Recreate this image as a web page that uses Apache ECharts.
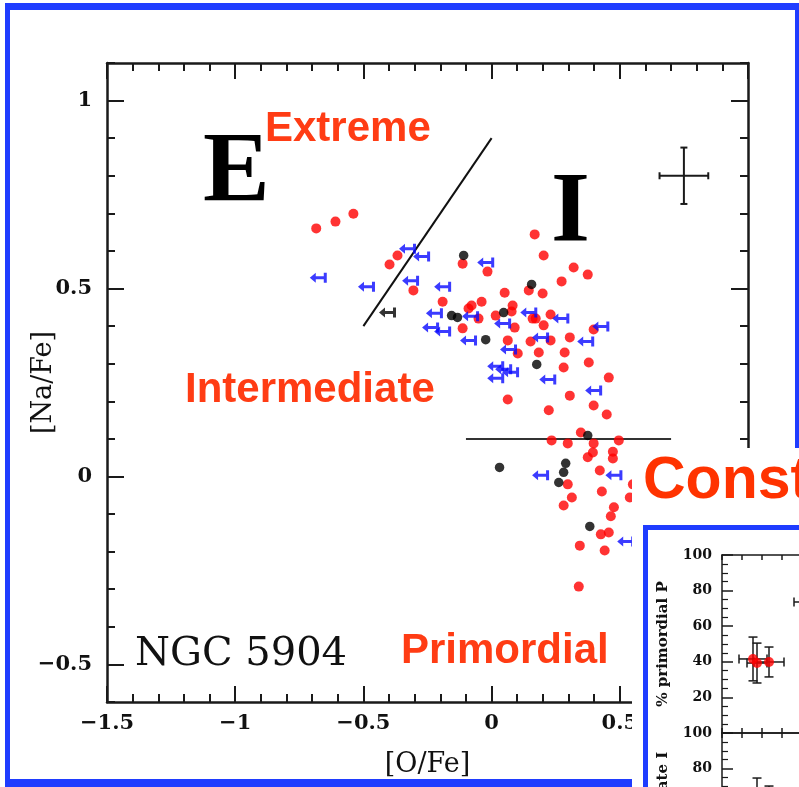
<!DOCTYPE html>
<html>
<head>
<meta charset="utf-8">
<script src="https://cdn.jsdelivr.net/npm/echarts@6/dist/echarts.min.js"></script>
<style>
  html, body { margin: 0; padding: 0; background: #fff; }
  #chart { width: 799px; height: 787px; }
</style>
</head>
<body>
<div id="chart"></div>
<script>
// NGC 5904: [Na/Fe] against [O/Fe], with the P / I / E component boundaries.

// Stars with both O and Na measured (red) - [O/Fe], [Na/Fe]
const redStars = [
  [-0.684, 0.660], [-0.609, 0.678], [-0.539, 0.699], [-0.398, 0.564], [-0.367, 0.588],
  [0.168, 0.644], [0.203, 0.588], [0.320, 0.556], [0.375, 0.537], [0.273, 0.519],
  [-0.113, 0.566], [-0.016, 0.545], [-0.305, 0.495], [0.145, 0.495], [0.199, 0.487],
  [0.051, 0.489], [-0.191, 0.465], [-0.039, 0.465], [-0.078, 0.455], [-0.090, 0.447],
  [0.082, 0.455], [0.078, 0.439], [-0.051, 0.420], [0.016, 0.428], [0.160, 0.420],
  [0.172, 0.420], [0.230, 0.431], [0.090, 0.396], [0.203, 0.402], [-0.113, 0.394],
  [0.398, 0.391], [0.305, 0.370], [0.230, 0.362], [0.152, 0.359], [0.063, 0.362],
  [0.102, 0.327], [0.184, 0.330], [0.285, 0.330], [0.379, 0.303], [0.281, 0.290],
  [0.457, 0.263], [0.305, 0.215], [0.063, 0.205], [0.223, 0.176], [0.398, 0.189],
  [0.449, 0.165], [0.348, 0.117], [0.234, 0.096], [0.297, 0.088], [0.398, 0.088],
  [0.496, 0.096], [0.395, 0.064], [0.473, 0.066], [0.473, 0.048], [0.375, 0.051],
  [0.297, -0.021], [0.422, 0.016], [0.551, -0.021], [0.430, -0.040], [0.313, -0.056],
  [0.281, -0.077], [0.539, -0.056], [0.477, -0.082], [0.465, -0.106], [0.426, -0.154],
  [0.457, -0.149], [0.344, -0.184], [0.441, -0.197], [0.340, -0.293]
];

// Second sample (black)
const blackStars = [
  [-0.109, 0.588], [0.156, 0.511], [-0.156, 0.428], [-0.133, 0.423], [0.047, 0.436],
  [-0.023, 0.364], [0.176, 0.298], [0.375, 0.109], [0.031, 0.024], [0.289, 0.035],
  [0.281, 0.011], [0.262, -0.016], [0.383, -0.133]
];

// Upper limits on [O/Fe] (blue arrows)
const blueLimits = [
  [-0.676, 0.529], [-0.488, 0.505], [-0.328, 0.606], [-0.273, 0.585], [-0.023, 0.569],
  [-0.316, 0.521], [-0.191, 0.505], [-0.223, 0.434], [-0.082, 0.426], [-0.238, 0.396],
  [-0.191, 0.386], [0.043, 0.407], [0.145, 0.436], [0.270, 0.420], [-0.090, 0.362],
  [0.191, 0.370], [0.367, 0.359], [0.426, 0.399], [0.066, 0.338], [0.016, 0.293],
  [0.074, 0.277], [0.016, 0.261], [0.047, 0.285], [0.219, 0.258], [0.398, 0.229],
  [0.191, 0.003], [0.477, 0.003], [0.523, -0.173]
];

// Upper limit on [O/Fe], second sample (black arrow)
const blackLimits = [[-0.406, 0.436]];

// Component boundaries
const extremeBoundary = [[-0.5, 0.4], [0.0, 0.9]];
const primordialBoundary = [[-0.1, 0.1], [0.7, 0.1]];

// Typical error: [O/Fe], [Na/Fe], err[O/Fe], err[Na/Fe]
const typicalError = [[0.75, 0.80, 0.095, 0.075]];

// Axis tick labels
const oFeTicks = [-1.5, -1, -0.5, 0, 0.5, 1];
const naFeTicks = [-0.5, 0, 0.5, 1];

// Small panels: fraction of P and I components
const panelX = [1.55, 1.75, 2.35, 4.4];
const panelXErr = [0.7, 0.5, 0.75, 0.8];
const primordialP = [41.6, 39.3, 39.9, 73.6];
const primordialErr = [12.3, 11.2, 8.4, 10.0];
const intermediateI = [54.0, 61.0, 58.0, 20.0];
const intermediateErr = [12.0, 13.7, 12.2, 8.0];
const percentTicks = [20, 40, 60, 80, 100];

const ORANGE = '#ff3c14';
const BLUE = '#1f3cff';
const INK = '#1a1a1a';

const fmtSigned = v => (v < 0 ? '\u2212' + Math.abs(v) : String(v));

function errorBars(capHalf, width) {
  return function (params, api) {
    const x = api.value(0), y = api.value(1), ex = api.value(2), ey = api.value(3);
    const l = api.coord([x - ex, y]), r = api.coord([x + ex, y]);
    const t = api.coord([x, y + ey]), b = api.coord([x, y - ey]);
    const style = { stroke: INK, lineWidth: width };
    const seg = (x1, y1, x2, y2) => ({ type: 'line', shape: { x1, y1, x2, y2 }, style });
    return {
      type: 'group',
      children: [
        seg(l[0], l[1], r[0], r[1]),
        seg(t[0], t[1], b[0], b[1]),
        seg(l[0], l[1] - capHalf, l[0], l[1] + capHalf),
        seg(r[0], r[1] - capHalf, r[0], r[1] + capHalf),
        seg(t[0] - capHalf, t[1], t[0] + capHalf, t[1]),
        seg(b[0] - capHalf, b[1], b[0] + capHalf, b[1])
      ]
    };
  };
}

const arrowPath = 'path://M0,5L6,0L6,3.5L14,3.5L14,0L17,0L17,10L14,10L14,6.5L6,6.5L6,10Z';

const frameLine = { show: true, onZero: false, lineStyle: { color: INK, width: 2.5 } };
const hiddenLine = { show: false, onZero: false };
const tickFont = { fontFamily: 'DejaVu Serif', fontWeight: 'bold', fontSize: 21, color: '#111' };
const nameFont = { fontFamily: 'DejaVu Serif', fontSize: 27, color: '#111' };
const smallFont = { fontFamily: 'DejaVu Serif', fontWeight: 'bold', fontSize: 14, color: '#111' };
const smallLine = { show: true, onZero: false, lineStyle: { color: INK, width: 1.5 } };

function mainX(position, withLabels) {
  return {
    gridIndex: 0, type: 'value', position, min: -1.5, max: 1.0, interval: 0.5,
    axisLine: frameLine,
    axisTick: { show: true, inside: true, length: 16, lineStyle: { color: INK, width: 2 } },
    minorTick: { show: true, splitNumber: 5, length: 8, lineStyle: { color: INK, width: 2 } },
    splitLine: { show: false }, minorSplitLine: { show: false },
    axisLabel: withLabels ? Object.assign({ show: true, margin: 11, formatter: fmtSigned, customValues: oFeTicks }, tickFont) : { show: false },
    name: withLabels ? '[O/Fe]' : '', nameLocation: 'middle', nameGap: 49, nameMoveOverlap: false,
    nameTextStyle: nameFont
  };
}

function mainY(position, major, withLabels) {
  const ax = {
    gridIndex: 0, type: 'value', position, min: -0.6, max: 1.1, interval: 0.1,
    axisLine: major ? hiddenLine : frameLine,
    axisTick: major
      ? { show: true, inside: true, length: 17, customValues: naFeTicks, lineStyle: { color: INK, width: 2 } }
      : { show: true, inside: true, length: 8, lineStyle: { color: INK, width: 2 } },
    splitLine: { show: false },
    axisLabel: withLabels ? Object.assign({ show: true, margin: 15, formatter: fmtSigned, customValues: naFeTicks }, tickFont) : { show: false }
  };
  if (withLabels) {
    ax.name = '[Na/Fe]';
    ax.nameLocation = 'middle';
    ax.nameGap = 50;
    ax.nameRotate = 90;
    ax.nameMoveOverlap = false;
    ax.nameTextStyle = nameFont;
  }
  return ax;
}

function panelXAxis(gridIndex, position) {
  return {
    gridIndex, type: 'value', position, min: 0, max: 10, interval: 1, z: 20,
    axisLine: smallLine,
    axisTick: { show: true, inside: true, length: 5, lineStyle: { color: INK, width: 1.5 } },
    splitLine: { show: false }, axisLabel: { show: false }
  };
}

function panelYAxis(gridIndex, name) {
  return {
    gridIndex, type: 'value', position: 'left', min: 0, max: 100, interval: 20, z: 20,
    axisLine: smallLine,
    axisTick: { show: true, inside: true, length: 11, lineStyle: { color: INK, width: 1.5 } },
    minorTick: { show: true, splitNumber: 4, length: 6, lineStyle: { color: INK, width: 1.2 } },
    splitLine: { show: false }, minorSplitLine: { show: false },
    axisLabel: Object.assign({ show: true, margin: 10, customValues: percentTicks }, smallFont),
    name, nameLocation: 'middle', nameGap: 51, nameRotate: 90, nameMoveOverlap: false,
    nameTextStyle: { fontFamily: 'DejaVu Serif', fontWeight: 'bold', fontSize: 15, color: '#111' }
  };
}

const pRows = panelX.map((x, i) => [x, primordialP[i], panelXErr[i], primordialErr[i]]);
const iRows = panelX.map((x, i) => [x, intermediateI[i], panelXErr[i], intermediateErr[i]]);
const pPoints = panelX.map((x, i) => [x, primordialP[i]]);
const iPoints = panelX.map((x, i) => [x, intermediateI[i]]);

const label = (text, x, y, font, fill, z) => ({
  type: 'text', x, y, z: z || 5,
  style: { text, font, fill, textAlign: 'left', textVerticalAlign: 'middle' }
});

const option = {
  animation: false,
  backgroundColor: '#fff',
  grid: [
    { left: 107, top: 63, width: 641, height: 639, outerBoundsMode: 'none', containLabel: false },
    { left: 722, top: 555, width: 200, height: 178, z: 20, outerBoundsMode: 'none', containLabel: false },
    { left: 722, top: 733, width: 200, height: 178, z: 20, outerBoundsMode: 'none', containLabel: false }
  ],
  xAxis: [
    mainX('bottom', true),
    mainX('top', false),
    panelXAxis(1, 'top'),
    panelXAxis(1, 'bottom'),
    panelXAxis(2, 'top')
  ],
  yAxis: [
    mainY('left', false, true),
    mainY('left', true, false),
    mainY('right', false, false),
    mainY('right', true, false),
    panelYAxis(1, '% primordial P'),
    panelYAxis(2, '% intermediate I')
  ],
  series: [
    { type: 'line', xAxisIndex: 0, yAxisIndex: 0, data: extremeBoundary, symbol: 'none',
      lineStyle: { color: '#111', width: 2 }, z: 3 },
    { type: 'line', xAxisIndex: 0, yAxisIndex: 0, data: primordialBoundary, symbol: 'none',
      lineStyle: { color: '#333', width: 2 }, z: 3 },
    { type: 'scatter', xAxisIndex: 0, yAxisIndex: 0, data: redStars, symbol: 'circle', symbolSize: 10,
      itemStyle: { color: '#ff0000' }, z: 4 },
    { type: 'scatter', xAxisIndex: 0, yAxisIndex: 0, data: blackStars, symbol: 'circle', symbolSize: 9.5,
      itemStyle: { color: '#000' }, z: 4 },
    { type: 'scatter', xAxisIndex: 0, yAxisIndex: 0, data: blueLimits, symbol: arrowPath, symbolSize: [17, 10],
      itemStyle: { color: '#0a0aff' }, z: 4 },
    { type: 'scatter', xAxisIndex: 0, yAxisIndex: 0, data: blackLimits, symbol: arrowPath, symbolSize: [17, 10],
      itemStyle: { color: '#000' }, z: 4 },
    { type: 'custom', xAxisIndex: 0, yAxisIndex: 0, data: typicalError, renderItem: errorBars(3.5, 2),
      encode: { x: 0, y: 1 }, z: 4 },
    { type: 'custom', xAxisIndex: 2, yAxisIndex: 4, data: pRows, renderItem: errorBars(4.5, 1.5),
      encode: { x: 0, y: 1 }, z: 25, clip: false },
    { type: 'scatter', xAxisIndex: 2, yAxisIndex: 4, data: pPoints, symbol: 'circle', symbolSize: 10,
      itemStyle: { color: '#ff0000' }, z: 26 },
    { type: 'custom', xAxisIndex: 4, yAxisIndex: 5, data: iRows, renderItem: errorBars(4.5, 1.5),
      encode: { x: 0, y: 1 }, z: 25, clip: false },
    { type: 'scatter', xAxisIndex: 4, yAxisIndex: 5, data: iPoints, symbol: 'circle', symbolSize: 10,
      itemStyle: { color: '#ff0000' }, z: 26 }
  ],
  graphic: [
    // page frame
    { type: 'rect', shape: { x: 5, y: 3, width: 5, height: 784 }, style: { fill: BLUE }, z: 1 },
    { type: 'rect', shape: { x: 5, y: 3, width: 794, height: 7 }, style: { fill: BLUE }, z: 1 },
    { type: 'rect', shape: { x: 795, y: 3, width: 4, height: 784 }, style: { fill: BLUE }, z: 1 },
    { type: 'rect', shape: { x: 5, y: 779, width: 794, height: 8 }, style: { fill: BLUE }, z: 1 },
    // region names
    label('E', 203, 174, 'bold 100px "Liberation Serif"', '#000'),
    label('I', 551, 214, 'bold 100px "Liberation Serif"', '#000'),
    label('Extreme', 265, 129, 'bold 42px "Liberation Sans"', ORANGE),
    label('Intermediate', 185, 390, 'bold 42px "Liberation Sans"', ORANGE),
    label('Primordial', 401, 651, 'bold 42px "Liberation Sans"', ORANGE),
    label('NGC 5904', 135, 655, '40px "DejaVu Serif"', '#111'),
    // overlaid slide panel
    { type: 'rect', shape: { x: 632, y: 448, width: 167, height: 339 }, style: { fill: '#fff' }, z: 10 },
    label('Constraints', 643, 482, 'bold 59px "Liberation Sans"', '#ff3300', 11),
    { type: 'rect', shape: { x: 645.5, y: 527.5, width: 300, height: 300 },
      style: { fill: '#fff', stroke: BLUE, lineWidth: 5 }, z: 11 }
  ]
};

const chart = echarts.init(document.getElementById('chart'), null, { renderer: 'canvas' });
chart.setOption(option);
</script>
</body>
</html>
